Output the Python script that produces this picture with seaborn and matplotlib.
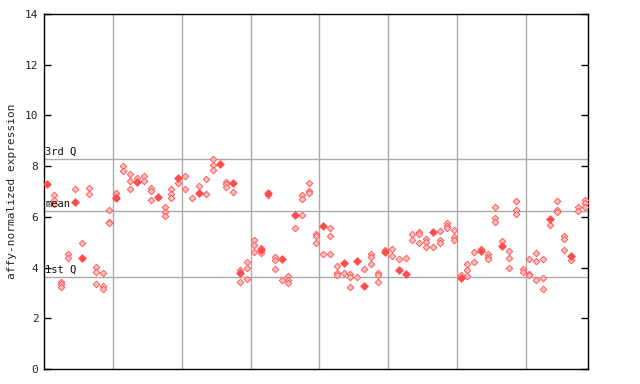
import matplotlib
matplotlib.use("Agg")
import matplotlib.pyplot as plt
import seaborn as sns
import pandas as pd

# ---- data ----
# patterned (replicate) points per sample column
sample_vals = [
    [], [6.86, 6.68, 6.5], [3.44, 3.34, 3.22], [4.53, 4.38], [7.08], [4.96],
    [7.12, 6.92], [4.01, 3.84, 3.34], [3.77, 3.27, 3.14], [6.27, 5.81, 5.74],
    [6.93, 6.79], [8.02, 7.8], [7.7, 7.4, 7.1], [7.55], [7.6, 7.4],
    [7.12, 7.02, 6.66], [], [6.37, 6.18, 6.05], [7.08, 6.89, 6.73], [7.32],
    [7.6, 7.08], [6.75], [7.22], [7.49, 6.89], [8.27, 8.04, 7.83],
    [], [7.39, 7.28, 7.16], [6.98], [3.9, 3.45], [4.21, 3.98, 3.54],
    [5.09, 4.88, 4.6], [4.77, 4.56], [6.85], [4.4, 4.3, 3.93], [3.5],
    [3.67, 3.51, 3.38], [5.55], [6.86, 6.69, 6.06], [7.32, 7.03, 6.93], [5.31, 5.23, 4.96],
    [4.52], [5.56, 5.23, 4.52], [4.06, 3.77, 3.71], [3.77], [3.73, 3.64, 3.22],
    [3.62], [3.93], [4.53, 4.43, 4.16], [3.8, 3.72, 3.45], [4.68],
    [4.73, 4.46], [4.32], [4.38], [5.31, 5.09], [5.41, 5.32, 4.96],
    [5.11, 5.02, 4.81], [4.81], [5.43, 5.09, 4.98], [5.74, 5.64, 5.55], [5.5, 5.22, 5.09],
    [3.71], [4.13, 3.89, 3.65], [4.6, 4.21], [4.72], [4.53, 4.43, 4.32],
    [6.37, 5.94, 5.78], [5.03], [4.64, 4.36, 3.97], [6.61, 6.29, 6.1], [3.95, 3.82],
    [4.32, 3.76, 3.69], [4.56, 4.24, 3.5], [4.32, 3.58, 3.14], [5.69], [6.61, 6.27, 6.19],
    [5.24, 5.11, 4.68], [4.28], [6.4, 6.23], [6.66, 6.53, 6.4],
]
# solid points (sample column, value)
solid_idx = [0, 4, 5, 10, 13, 16, 19, 22, 25, 27, 28, 31, 32, 34, 36, 40, 43,
             45, 46, 49, 51, 52, 56, 60, 63, 66, 73, 76]
solid_vals = [7.28, 6.58, 4.39, 6.76, 7.38, 6.8, 7.55, 6.93, 8.08, 7.32, 3.8, 4.69,
              6.93, 4.35, 6.09, 5.62, 4.19, 4.27, 3.28, 4.6, 3.89, 3.76, 5.41, 3.6,
              4.66, 4.86, 5.93, 4.47]

stat_labels = ["3rd Q", "mean", "1st Q"]
stat_values = [8.28, 6.22, 3.62]
group_bounds = [9.5, 19.5, 29.5, 39.5, 49.5, 59.5, 69.5]
y_ticks = [0, 2, 4, 6, 8, 10, 12, 14]

hx, hy = [], []
for i, vals in enumerate(sample_vals):
    for v in vals:
        hx.append(i)
        hy.append(v)
df_h = pd.DataFrame({"sample": hx, "value": hy})
df_s = pd.DataFrame({"sample": solid_idx, "value": solid_vals})

sns.set_style("white")
plt.rcParams["font.family"] = ["DejaVu Sans Mono"]

fig = plt.figure(figsize=(6.4, 3.84), dpi=100)
ax = fig.add_axes([44 / 640, 15 / 384, 544 / 640, 355 / 384])

for b in group_bounds:
    ax.axvline(b, color="#aaaaaa", lw=1, zorder=1)
for lab, v in zip(stat_labels, stat_values):
    ax.axhline(v, color="#aaaaaa", lw=1, zorder=1)
    ax.text(-0.35, v + 0.08, lab, fontsize=7.5, color="#111111",
            va="bottom", ha="left", zorder=6)

sns.scatterplot(data=df_h, x="sample", y="value", marker="D", s=11,
                facecolor="#ffc0c0", edgecolor="#ff5a5a", linewidth=0.7,
                ax=ax, zorder=3, legend=False)
sns.scatterplot(data=df_s, x="sample", y="value", marker="D", s=16,
                color="#ff4d4d", edgecolor="#ff4d4d", linewidth=0.5,
                ax=ax, zorder=4, legend=False)

ax.set_xlim(-0.5, 78.5)
ax.set_ylim(0, 14)
ax.set_yticks(y_ticks)
ax.set_yticklabels([str(t) for t in y_ticks], fontsize=8)
ax.set_xticks([])
ax.set_xlabel("")
ax.set_ylabel("affy-normalized expression", fontsize=8, labelpad=6)
ax.tick_params(axis="y", direction="in", length=5, width=1, color="black",
               left=True, right=True, pad=4)
for sp in ax.spines.values():
    sp.set_color("black")
    sp.set_linewidth(1)

fig.savefig("out.png", dpi=100)
